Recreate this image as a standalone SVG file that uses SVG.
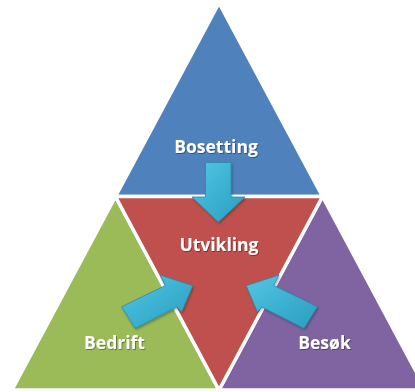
<svg xmlns="http://www.w3.org/2000/svg" width="415" height="392" viewBox="0 0 415 392">
  <style>
    .tri { stroke: #ffffff; stroke-width: 3.5; stroke-linejoin: miter; }
    .arrow { fill: url(#arrowGrad); stroke: #2b8aa8; stroke-width: 0.8; stroke-linejoin: round; }
    .label { font-family: "Open Sans", "Liberation Sans", sans-serif; font-weight: 700; font-size: 17.5px; fill: #ffffff; text-anchor: middle; filter: url(#txtShadow); }
  </style>
  <defs>
    <linearGradient id="arrowGrad" x1="0" y1="0" x2="1" y2="1">
      <stop offset="0" stop-color="#55c6e2"/>
      <stop offset="0.5" stop-color="#3cb2d3"/>
      <stop offset="1" stop-color="#2d9dbf"/>
    </linearGradient>
    <filter id="txtShadow" x="-20%" y="-30%" width="140%" height="160%">
      <feDropShadow dx="0.8" dy="0.8" stdDeviation="0.7" flood-color="#000000" flood-opacity="0.45"/>
    </filter>
    <filter id="arrowShadow" x="-20%" y="-20%" width="140%" height="140%">
      <feDropShadow dx="1" dy="1.5" stdDeviation="1.2" flood-color="#000000" flood-opacity="0.3"/>
    </filter>
  </defs>

  <g id="node-bosetting">
    <polygon class="tri" fill="#4f81bd" points="219,3 115.5,196.5 322.5,196.5"/>
    <text class="label" x="216" y="153">Bosetting</text>
  </g>
  <g id="node-bedrift">
    <polygon class="tri" fill="#9bbb59" points="115.5,196.5 12,390 219,390"/>
    <text class="label" x="114.5" y="349">Bedrift</text>
  </g>
  <g id="node-besok">
    <polygon class="tri" fill="#8064a2" points="322.5,196.5 219,390 426,390"/>
    <text class="label" x="324.5" y="349">Besøk</text>
  </g>
  <g id="node-utvikling">
    <polygon class="tri" fill="#c0504d" points="115.5,196.5 322.5,196.5 219,390"/>
    <text class="label" x="219" y="250.5">Utvikling</text>
  </g>

  <g id="connectors" filter="url(#arrowShadow)">
    <polygon class="arrow" points="205.5,162.5 231,162.5 231,197 245,197 218.3,222 192,197 205.5,197"/>
    <polygon class="arrow" points="121.7,306.7 165.3,285.5 160,275 192.7,285.7 181.7,311.7 177,307 135,328.3"/>
    <polygon class="arrow" points="317.3,306.7 273.7,285.5 279,275 246.3,285.7 257.3,311.7 262,307 304,328.3"/>
  </g>
</svg>
